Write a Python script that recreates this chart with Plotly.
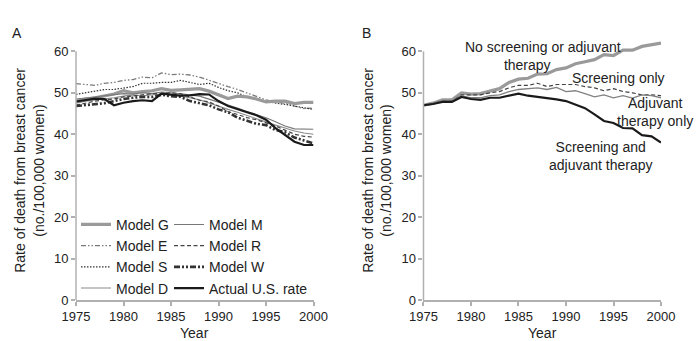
import plotly.graph_objects as go
from plotly.subplots import make_subplots

years = list(range(1975, 2001))

# Panel A
model_g = [48.0, 48.5, 48.8, 49.3, 49.7, 50.5, 50.0, 50.3, 50.5, 51.0, 50.6, 50.7, 50.8,
           51.0, 50.4, 49.5, 48.6, 49.2, 49.0, 48.5, 47.8, 48.0, 48.0, 47.4, 47.7, 47.7]
model_e = [52.2, 52.0, 51.8, 52.3, 52.5, 53.0, 53.2, 53.8, 53.6, 54.8, 54.4, 54.5, 54.3,
           53.8, 53.0, 52.2, 51.5, 50.8, 50.0, 49.2, 48.3, 47.8, 47.5, 46.8, 46.2, 46.3]
model_s = [49.6, 50.0, 50.3, 50.8, 50.8, 51.2, 51.5, 52.3, 52.3, 52.5, 52.5, 53.0, 52.5,
           52.0, 52.3, 51.3, 50.5, 50.0, 49.0, 48.5, 48.0, 47.5, 47.2, 46.8, 46.3, 46.0]
model_d = [47.5, 48.0, 48.3, 48.5, 48.8, 49.2, 49.5, 49.3, 49.5, 49.7, 49.5, 49.2, 48.8,
           48.3, 47.5, 46.8, 46.0, 45.3, 44.5, 43.7, 43.0, 42.2, 41.5, 40.8, 40.3, 40.0]
model_m = [48.5, 48.7, 49.0, 49.3, 49.5, 49.8, 49.7, 50.0, 49.8, 50.2, 50.0, 49.8, 49.5,
           49.2, 48.5, 47.8, 47.0, 46.3, 45.5, 44.8, 44.0, 43.0, 42.0, 41.3, 41.2, 41.2]
model_r = [47.0, 47.5, 48.0, 48.3, 48.5, 49.0, 49.2, 49.5, 49.8, 49.8, 50.0, 49.8, 49.0,
           48.2, 47.8, 46.8, 45.5, 44.8, 44.0, 43.5, 42.8, 42.0, 41.0, 40.0, 39.5, 39.3]
model_w = [46.8, 47.0, 47.3, 47.5, 48.0, 48.5, 48.8, 49.0, 49.0, 49.5, 49.2, 49.0, 48.0,
           47.5, 47.0, 46.0, 45.3, 44.0, 43.2, 42.5, 42.2, 41.0, 40.5, 39.2, 38.5, 37.8]
actual = [47.9, 48.3, 48.6, 48.5, 47.0, 47.6, 48.0, 48.2, 48.0, 49.8, 49.5, 49.3, 49.4,
          49.7, 49.6, 48.0, 46.8, 46.0, 45.3, 44.6, 43.5, 41.5, 39.8, 38.2, 37.4, 37.4]

# Panel B
no_screen = [47.0, 47.5, 48.3, 48.3, 50.0, 49.7, 49.8, 50.5, 51.0, 52.5, 53.3, 53.5, 54.5,
             54.6, 55.6, 56.0, 57.0, 57.5, 58.0, 59.2, 59.0, 60.3, 60.3, 61.2, 61.6, 62.0]
screen_only = [47.0, 47.4, 48.0, 48.0, 49.5, 49.5, 49.5, 50.0, 50.3, 51.2, 51.8, 51.8, 52.3,
               51.5, 52.0, 52.0, 52.0, 51.5, 51.2, 50.5, 51.0, 50.3, 50.0, 49.5, 49.5, 49.3]
adjuvant_only = [47.0, 47.4, 48.0, 48.0, 49.3, 48.8, 48.8, 49.3, 49.5, 50.3, 50.8, 51.0, 51.2,
                 50.8, 51.3, 50.3, 50.5, 49.8, 49.0, 49.5, 48.8, 49.3, 48.7, 49.5, 49.3, 48.8]
both = [47.0, 47.3, 47.8, 47.8, 49.0, 48.5, 48.3, 48.8, 48.8, 49.3, 49.8, 49.3, 49.0,
        48.8, 48.4, 48.0, 47.2, 46.3, 44.8, 43.2, 42.7, 41.5, 41.4, 39.8, 39.5, 38.0]

ytick_vals = [0, 10, 20, 30, 40, 50, 60]
xtick_vals = [1975, 1980, 1985, 1990, 1995, 2000]

FONT = "Liberation Sans, Arial, sans-serif"
TXT = "#222222"
AX = "#b0b0b0"

fig = make_subplots(rows=1, cols=2, horizontal_spacing=0.188)

a_series = [
    ("Model G", model_g, dict(color="#9a9a9a", width=3.2), "legend", 1),
    ("Model E", model_e, dict(color="#7a7a7a", width=1.3, dash="5px,2px,1.5px,2px,1.5px,2px"), "legend", 2),
    ("Model S", model_s, dict(color="#333333", width=1.2, dash="1.5px,1.5px"), "legend", 3),
    ("Model D", model_d, dict(color="#8a8a8a", width=1.1), "legend", 4),
    ("Model M", model_m, dict(color="#777777", width=1.1), "legend2", 1),
    ("Model R", model_r, dict(color="#444444", width=1.2, dash="4px,2.5px"), "legend2", 2),
    ("Model W", model_w, dict(color="#333333", width=2.6, dash="6px,2px,2px,2px,2px,2px"), "legend2", 3),
    ("Actual U.S. rate", actual, dict(color="#1a1a1a", width=2.2), "legend2", 4),
]
draw_order = ["Model E", "Model S", "Model G", "Model D", "Model M", "Model R", "Model W", "Actual U.S. rate"]
lookup = {s[0]: s for s in a_series}
for name in draw_order:
    n, vals, line, lg, rank = lookup[name]
    fig.add_trace(go.Scatter(x=years, y=vals, mode="lines", name=n, line=line,
                             legend=lg, legendrank=rank), row=1, col=1)

b_series = [
    ("No screening or adjuvant therapy", no_screen, dict(color="#9a9a9a", width=3.2)),
    ("Screening only", screen_only, dict(color="#444444", width=1.2, dash="4px,2.5px")),
    ("Adjuvant therapy only", adjuvant_only, dict(color="#808080", width=1.3)),
    ("Screening and adjuvant therapy", both, dict(color="#1a1a1a", width=2.2)),
]
for n, vals, line in b_series:
    fig.add_trace(go.Scatter(x=years, y=vals, mode="lines", name=n, line=line,
                             showlegend=False), row=1, col=2)

axis_common = dict(showgrid=False, zeroline=False, ticks="outside", ticklen=4, automargin=False,
                   tickwidth=1.5, tickcolor=AX, tickfont=dict(family=FONT, size=13, color=TXT))

for c in (1, 2):
    fig.update_xaxes(range=[1975, 2000], tickvals=xtick_vals, showline=True, linecolor=AX,
                     linewidth=1.5, row=1, col=c, **axis_common)
    fig.update_yaxes(range=[0, 62.5], tickvals=ytick_vals, showline=False,
                     title=dict(text="Rate of death from breast cancer<br>(no./100,000 women)",
                                font=dict(family=FONT, size=14, color=TXT), standoff=6),
                     row=1, col=c, **axis_common)

# x axis titles, low near the page edge as in the reference
for xr in ("x domain", "x2 domain"):
    fig.add_annotation(text="Year", xref=xr, yref="paper", x=0.5, y=-0.127, showarrow=False,
                       xanchor="center", yanchor="middle", font=dict(family=FONT, size=14, color=TXT))

# y axis lines up to 60
for xr, yr in (("x domain", "y"), ("x2 domain", "y2")):
    fig.add_shape(type="line", xref=xr, yref=yr, x0=0, x1=0, y0=ytick_vals[0], y1=ytick_vals[-1],
                  line=dict(color=AX, width=1.5))

# panel letters
fig.add_annotation(text="A", xref="paper", yref="paper", x=-0.112, y=1.03, showarrow=False,
                   xanchor="left", yanchor="middle", font=dict(family=FONT, size=14, color=TXT))
fig.add_annotation(text="B", xref="paper", yref="paper", x=0.486, y=1.03, showarrow=False,
                   xanchor="left", yanchor="middle", font=dict(family=FONT, size=14, color=TXT))

# Panel B labels
nb = "&nbsp;"
b_labels = [
    ("No screening or adjuvant<br>therapy" + nb * 8, 1987.6, 59.0),
    ("Screening only", 1995.5, 53.6),
    ("Adjuvant<br>therapy only", 1999.4, 45.3),
    ("Screening and<br>adjuvant therapy", 1993.7, 34.7),
]
for t, xv, yv in b_labels:
    fig.add_annotation(text=t, x=xv, y=yv, xref="x2", yref="y2", showarrow=False,
                       xanchor="center", yanchor="middle", align="center",
                       font=dict(family=FONT, size=14, color=TXT))

legend_style = dict(font=dict(family=FONT, size=14, color=TXT), bgcolor="rgba(0,0,0,0)",
                    xanchor="left", yanchor="top", orientation="v", tracegroupgap=0)
fig.update_layout(
    width=700, height=341,
    margin=dict(l=76, r=39, t=41, b=41),
    plot_bgcolor="white", paper_bgcolor="white",
    font=dict(family=FONT, size=13, color=TXT),
    legend=dict(x=0.0, y=0.352, **legend_style),
    legend2=dict(x=0.159, y=0.352, **legend_style),
)

fig.write_html("out.html")
